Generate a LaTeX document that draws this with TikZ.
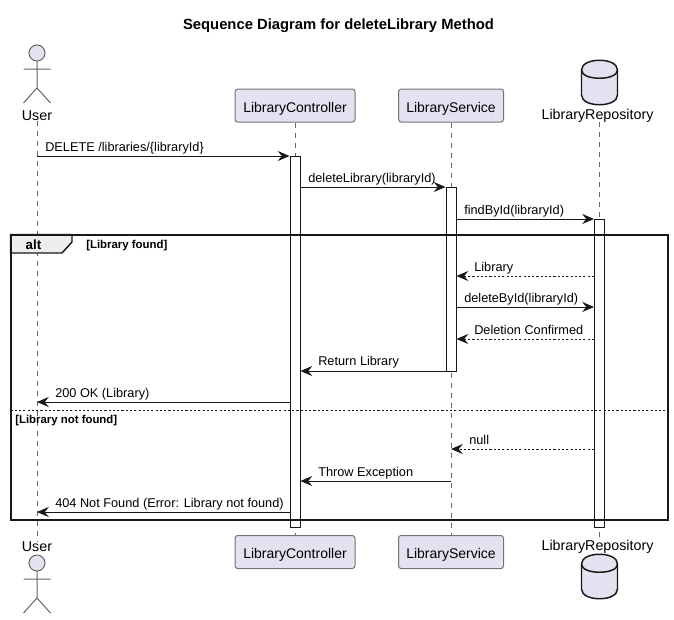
\documentclass[tikz,border=0pt]{standalone}
\usepackage{fontspec}
\setmainfont{Liberation Sans}
\usetikzlibrary{arrows.meta}

\definecolor{partfill}{HTML}{E2E2F0}
\definecolor{partline}{HTML}{181818}
\definecolor{tabfill}{HTML}{EEEEEE}

\tikzset{
  partbox/.style={draw=gray!90!black, fill=partfill, rounded corners=2pt, line width=0.75pt,
    minimum height=24.75pt, inner sep=0pt, text height=10.2pt, text depth=0pt,
    font=\fontsize{10.5}{12}\selectfont},
  partlabel/.style={inner sep=0pt, font=\fontsize{10.7}{12}\selectfont},
  lifeline/.style={draw=gray!80!black, line width=0.75pt, dash pattern=on 3.75pt off 3.75pt},
  actbar/.style={draw=partline, fill=white, line width=0.75pt, minimum width=7.5pt,
    minimum height=#1*0.75pt, inner sep=0pt, anchor=north},
  msg/.style={draw=partline, line width=0.75pt,
    -{Stealth[length=8.8pt, width=7.5pt, inset=3pt]}},
  reply/.style={msg, dash pattern=on 1.6pt off 1.6pt},
  msgtext/.style={inner sep=0pt, anchor=base west, font=\fontsize{9.55}{11}\selectfont},
  guardtext/.style={inner sep=0pt, anchor=base west, font=\fontsize{8.55}{10}\selectfont\bfseries},
  actor/.pic={
    \draw[gray!80!black, line width=0.75pt, fill=partfill] (0,0) circle [radius=8];
    \draw[gray!80!black, line width=0.75pt] (0,8) -- (0,35) (-13.5,16) -- (13.5,16)
      (-13.5,50) -- (0,35) -- (13.5,50);
  },
  dbicon/.pic={
    \draw[partline, line width=1.1pt, fill=partfill] (-18,0) .. controls (-18,-13) and (18,-13) .. (18,0)
      -- (18,25) .. controls (18,38) and (-18,38) .. (-18,25) -- cycle;
    \draw[partline, line width=1.1pt] (-18,0) .. controls (-18,11) and (18,11) .. (18,0);
  },
}

\begin{document}
\begin{tikzpicture}[x=0.75pt, y=-0.75pt]
\useasboundingbox (0,0) rectangle (674,619);

\node (title) [font=\fontsize{11.1}{13}\selectfont\bfseries, inner sep=0pt] at (338.5,25.5)
  {Sequence Diagram for deleteLibrary Method};

% participants, top and bottom
\node (userTop) [partlabel] at (37,115.5) {User};
\node (ctrlTop) [partbox, minimum width=90pt] at (295,105.5) {LibraryController};
\node (servTop) [partbox, minimum width=78.75pt] at (451,105.5) {LibraryService};
\node (repoTop) [partlabel] at (597.5,115.5) {LibraryRepository};

\node (userBot) [partlabel] at (37,546.5) {User};
\node (ctrlBot) [partbox, minimum width=90pt] at (295,552) {LibraryController};
\node (servBot) [partbox, minimum width=78.75pt] at (451,552) {LibraryService};
\node (repoBot) [partlabel] at (597.5,546.5) {LibraryRepository};

\pic at (37,53) {actor};
\pic at (37,563) {actor};
\pic at (599.5,70) {dbicon};
\pic at (599.5,564) {dbicon};

\coordinate (repoLine) at (599.5,0);

% lifelines
\draw[lifeline] (userTop) -- (userBot);
\draw[lifeline] (ctrlTop) -- (ctrlBot);
\draw[lifeline] (servTop) -- (servBot);
\draw[lifeline] (repoLine |- repoTop.south) -- (repoLine |- repoBot.north);

% activation bars
\node (ctrlBar) [actbar=371] at (295,156) {};
\node (servBar) [actbar=184] at (451,187) {};
\node (repoBar) [actbar=308] at (599.5,219) {};

\foreach \n/\y in {1/156,2/187,3/219,4/276,5/307,6/339,7/371,8/402,9/449,10/481,11/512}
  \coordinate (m\n) at (0,\y);

% messages
\draw[msg] (userTop |- m1) -- (ctrlBar.west |- m1);
\draw[msg] (ctrlBar.east |- m2) -- (servBar.west |- m2);
\draw[msg] (servBar.east |- m3) -- (repoBar.west |- m3);
\draw[reply] (repoBar.west |- m4) -- (servBar.east |- m4);
\draw[msg] (servBar.east |- m5) -- (repoBar.west |- m5);
\draw[reply] (repoBar.west |- m6) -- (servBar.east |- m6);
\draw[msg] (servBar.west |- m7) -- (ctrlBar.east |- m7);
\draw[msg] (ctrlBar.west |- m8) -- (userTop |- m8);
\draw[reply] (repoBar.west |- m9) -- (servTop |- m9);
\draw[msg] (servTop |- m10) -- (ctrlBar.east |- m10);
\draw[msg] (ctrlBar.west |- m11) -- (userTop |- m11);

\node (t1) [msgtext] at (45,151) {DELETE /libraries/\{libraryId\}};
\node (t2) [msgtext] at (308,182) {deleteLibrary(libraryId)};
\node (t3) [msgtext] at (464,214) {findById(libraryId)};
\node (t4) [msgtext] at (474,271) {Library};
\node (t5) [msgtext] at (464,302) {deleteById(libraryId)};
\node (t6) [msgtext] at (474,334) {Deletion Confirmed};
\node (t7) [msgtext] at (318,365) {Return Library};
\node (t8) [msgtext] at (55,397) {200 OK (Library)};
\node (t9) [msgtext] at (469,444) {null};
\node (t10) [msgtext] at (318,476) {Throw Exception};
\node (t11) [msgtext] at (55,507) {404 Not Found (Error: Library not found)};

% alt frame
\draw[partline, line width=1.1pt, fill=tabfill] (10.5,234.5) -- (72,234.5) -- (72,242) -- (62,253) -- (10.5,253) -- cycle;
\node (alt) [inner sep=0pt, font=\fontsize{10}{12}\selectfont\bfseries] at (33.5,245) {alt};
\draw[partline, line width=1.5pt] (10.5,234.5) rectangle (668,520);
\draw[partline, line width=0.75pt, dash pattern=on 1.6pt off 1.6pt] (10.5,410) -- (668,410);
\node (g1) [guardtext] at (86,248) {[Library found]};
\node (g2) [guardtext] at (15,423) {[Library not found]};

\end{tikzpicture}
\end{document}
